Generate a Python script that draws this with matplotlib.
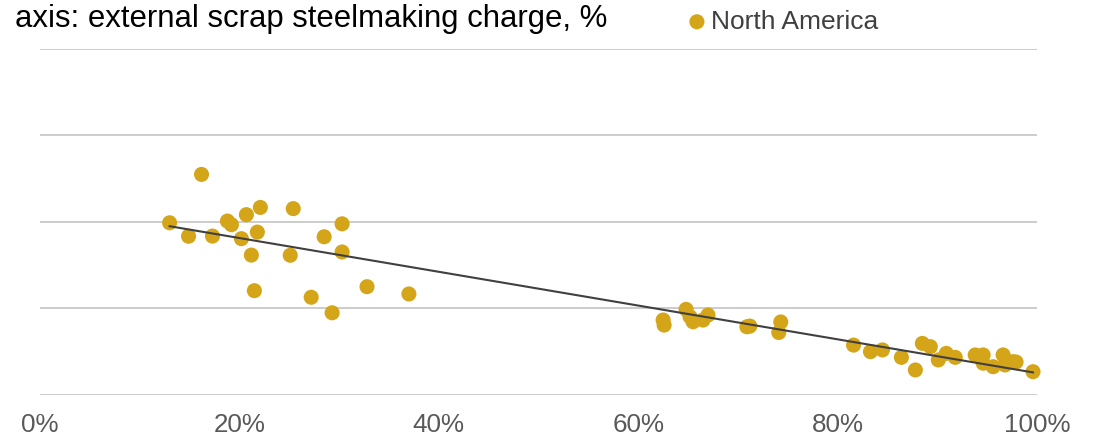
import numpy as np
import matplotlib
matplotlib.use("Agg")
import matplotlib.pyplot as plt

# external scrap share of the steelmaking charge, % / emissions intensity
scrap_pct = [13.0, 14.9, 16.2, 17.3, 18.8, 19.2, 20.2, 20.7, 21.2, 21.5,
             21.8, 22.1, 25.1, 25.4, 27.2, 28.5, 29.3, 30.3, 30.3, 32.8,
             37.0,
             62.5, 62.6, 64.8, 65.2, 65.5, 66.5, 67.0, 70.9, 71.2, 74.3,
             74.1,
             81.6, 83.3, 84.5, 86.4, 87.8, 88.5, 89.3, 90.1, 90.9, 91.8,
             93.8, 94.6, 94.6, 95.6, 96.6, 96.8, 97.6, 97.9, 99.6]
intensity = [0.994, 0.916, 1.274, 0.917, 1.004, 0.983, 0.902, 1.041, 0.807, 0.601,
             0.940, 1.083, 0.806, 1.076, 0.563, 0.913, 0.473, 0.988, 0.825, 0.624,
             0.582,
             0.431, 0.402, 0.493, 0.450, 0.421, 0.431, 0.460, 0.392, 0.396, 0.420,
             0.359,
             0.286, 0.248, 0.258, 0.215, 0.142, 0.296, 0.277, 0.200, 0.238, 0.215,
             0.229, 0.229, 0.181, 0.161, 0.229, 0.171, 0.190, 0.188, 0.132]

x_ticks = [0, 20, 40, 60, 80, 100]
x_labels = ["0%", "20%", "40%", "60%", "80%", "100%"]
y_grid = [0, 0.5, 1.0, 1.5, 2.0]

GOLD = "#D5A519"

plt.rcParams["font.family"] = ["Liberation Sans", "DejaVu Sans"]

fig = plt.figure(figsize=(10.99, 4.40), dpi=100)
ax = fig.add_axes([40 / 1099, 1 - 394.5 / 440, 997 / 1099, 345.5 / 440])

x = np.array(scrap_pct)
y = np.array(intensity)

sc = ax.scatter(x, y, s=118, color=GOLD, edgecolors="none", zorder=3,
                clip_on=False, label="North America")

# linear trend over the full range of points
k, b = np.polyfit(x, y, 1)
xt = np.array([x.min(), x.max()])
ax.plot(xt, k * xt + b, color="#404040", lw=1.5, zorder=4)

ax.set_xlim(0, 100)
ax.set_ylim(0, 2.0)
ax.set_xticks(x_ticks)
ax.set_xticklabels(x_labels)
ax.set_yticks(y_grid)
ax.set_yticklabels([])
ax.tick_params(axis="both", length=0)
ax.tick_params(axis="x", pad=13, labelsize=18.7, labelcolor="#595959")
ax.grid(axis="y", color="#BFBFBF", lw=1.1)
ax.grid(axis="x", visible=False)
ax.set_axisbelow(True)
for s in ax.spines.values():
    s.set_visible(False)

fig.text(607 / 1099, 1 - 27 / 440, "axis: external scrap steelmaking charge, %",
         ha="right", va="baseline", fontsize=22.4, color="black")

ax.legend(handles=[sc], loc="center left", bbox_to_anchor=(689 / 1099, 1 - 21.7 / 440),
          bbox_transform=fig.transFigure, frameon=False, fontsize=19,
          labelcolor="#404040", handlelength=0.6, handletextpad=0.22,
          borderpad=0, borderaxespad=0, scatterpoints=1)

fig.savefig("out.png", dpi=100)
